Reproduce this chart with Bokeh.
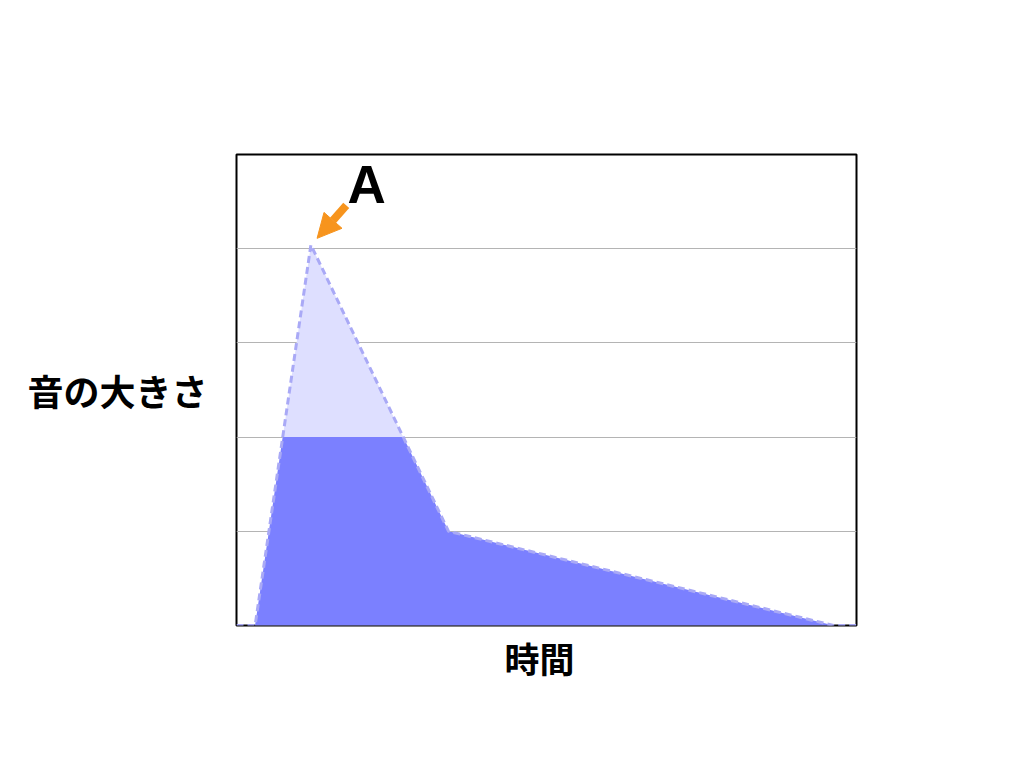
from bokeh.plotting import figure
from bokeh.models import Label, Arrow, NormalHead, FixedTicker, Range1d, Title
from bokeh.embed import file_html
from bokeh.resources import INLINE

# --- data ---
time_pts = [0, 3, 12, 34.2, 96.3, 100]
loudness = [0, 0, 4.04, 1.0, 0, 0]
threshold = 2.0
y_grid = [1, 2, 3, 4]
peak_label = "A"
x_title = "時間"
y_title = "音の大きさ"


def clip_below(xs, ys, level):
    cx, cy = [xs[0]], [min(ys[0], level)]
    for i in range(1, len(xs)):
        x0, y0, x1, y1 = xs[i - 1], ys[i - 1], xs[i], ys[i]
        if (y0 - level) * (y1 - level) < 0:
            t = (level - y0) / (y1 - y0)
            cx.append(x0 + t * (x1 - x0))
            cy.append(level)
        cx.append(x1)
        cy.append(min(y1, level))
    return cx, cy


W, H = 1000, 750
p = figure(width=W, height=H, output_backend="svg", toolbar_location=None,
           x_range=Range1d(0, 100), y_range=Range1d(0, 5))
p.min_border_left = 236
p.min_border_right = W - 856
p.min_border_top = 154
p.min_border_bottom = H - 625

for ax in (p.xaxis[0], p.yaxis[0]):
    ax.ticker = FixedTicker(ticks=[])
    ax.major_tick_line_color = None
    ax.minor_tick_line_color = None
    ax.axis_line_color = None
    ax.major_tick_out = 0
    ax.major_label_standoff = 0
    ax.major_label_text_font_size = "0px"
    ax.axis_label_text_font = "Noto Sans CJK JP"
    ax.axis_label_text_font_style = "bold"
    ax.axis_label_text_font_size = "36px"
    ax.axis_label_text_color = "black"

p.xaxis[0].axis_label_standoff = 0
p.yaxis[0].axis_label = y_title
p.yaxis[0].axis_label_orientation = "horizontal"
p.yaxis[0].axis_label_standoff = 29

p.add_layout(Title(text=x_title, align="left", offset=268, standoff=8,
                   text_font="Noto Sans CJK JP", text_font_style="bold",
                   text_font_size="35px", text_color="black"), "below")

p.xgrid.visible = False
p.ygrid.ticker = FixedTicker(ticks=y_grid)
p.ygrid.grid_line_color = "#b4b4b4"
p.ygrid.grid_line_width = 1
p.outline_line_color = "black"
p.outline_line_width = 2
p.background_fill_color = "white"
p.border_fill_color = "white"

# light full area
p.varea(x=time_pts, y1=[0] * len(time_pts), y2=loudness, fill_color="#dedfff")
# dark area capped at threshold
cx, cy = clip_below(time_pts, loudness, threshold)
p.varea(x=cx, y1=[0] * len(cx), y2=cy, fill_color="#7b80ff")
# dashed outline
p.line(time_pts, loudness, line_color="#a9a9f6", line_width=3, line_dash="7 4")

# arrow to the peak
peak_i = loudness.index(max(loudness))
px, py = time_pts[peak_i], loudness[peak_i]
p.add_layout(Arrow(x_start=px + 5.7, y_start=py + 0.42, x_end=px + 1.0, y_end=py + 0.07,
                   line_color="#f7941d", line_width=8,
                   end=NormalHead(size=24, fill_color="#f7941d", line_color="#f7941d", line_width=1)))
p.add_layout(Label(x=px + 9.0, y=py + 0.64, text=peak_label, text_align="center",
                   text_baseline="middle", text_font="Liberation Sans",
                   text_font_style="bold", text_font_size="53px", text_color="black"))

open("out.html", "w").write(file_html(p, INLINE))
